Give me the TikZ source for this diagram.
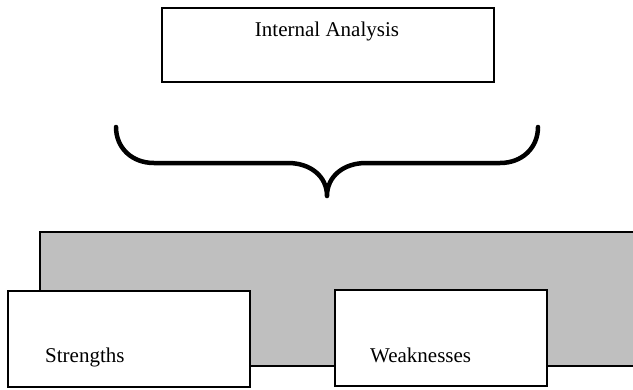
\documentclass[tikz,border=0pt]{standalone}
\usepackage{fontspec}
\setmainfont{Liberation Serif}
\begin{document}
\begin{tikzpicture}[x=1pt,y=-1pt,
  box/.style={draw=black,line width=1.4pt,fill=white},
  lbl/.style={font=\fontsize{21}{24}\selectfont,inner sep=0pt}]
\useasboundingbox (0,0) rectangle (633,389);
\clip (0,0) rectangle (633,389);
\fill[white] (0,0) rectangle (633,389);
% top box
\draw[box] (162,8) rectangle (494,82);
\node[lbl,anchor=base] (ia) at (327,36) {Internal Analysis};
% brace
\draw[line width=4.5pt,line cap=round,line join=round]
  (116,127) .. controls (116,148) and (132,163) .. (154,163) -- (288,163)
  .. controls (310,163) and (327,176) .. (327,196)
  .. controls (327,176) and (344,163) .. (366,163) -- (500,163)
  .. controls (522,163) and (538,148) .. (538,127);
% grey background
\draw[line width=1.4pt,fill=black!25] (40,232) rectangle (645,366);
% strengths / weaknesses
\draw[box] (8,291) rectangle (250,387);
\node[lbl,anchor=base west] (s) at (45,362) {Strengths};
\draw[box] (335,290) rectangle (547,386);
\node[lbl,anchor=base west] (w) at (370,362) {Weaknesses};
\end{tikzpicture}
\end{document}
